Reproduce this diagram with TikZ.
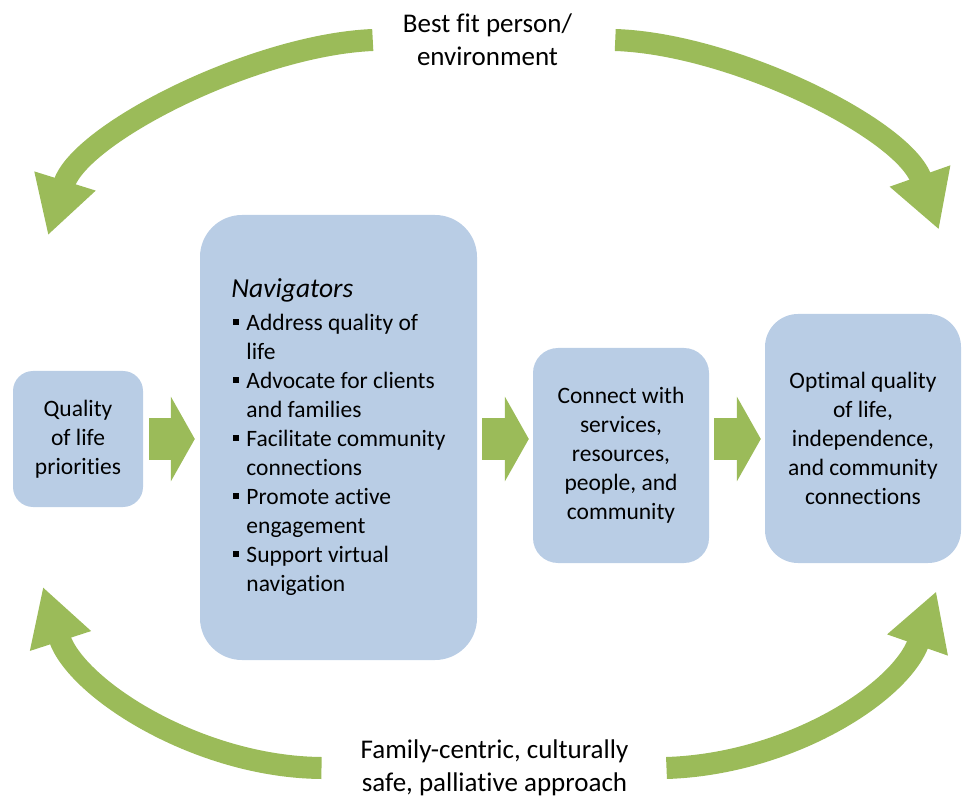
\documentclass[tikz,border=0pt]{standalone}
\usepackage{fontspec}
\setmainfont{Carlito}[Ligatures=NoCommon]
\usetikzlibrary{arrows.meta}
\definecolor{boxblue}{RGB}{185,205,229}
\definecolor{loopgreen}{RGB}{155,187,89}
\newcommand{\sqbullet}{\makebox[15pt][l]{\hspace{2pt}\rule[6pt]{6pt}{6pt}}}
\begin{document}
\begin{tikzpicture}[x=1pt,y=-1pt,
  roundbox/.style={fill=boxblue,inner sep=0pt,align=center,font=\fontsize{23.5}{29}\selectfont},
  blockarrow/.style={loopgreen,line width=42pt,-{Triangle[length=24pt,width=84pt]}},
  bendarrow/.style={loopgreen,line width=22pt,shorten >=-57pt,-{Triangle[length=57pt,width=60pt]}},
  looptext/.style={align=center,inner sep=0pt,font=\fontsize{27}{33}\selectfont}]
%%
\useasboundingbox (0,0) rectangle (962,802);
\node (prio) at (78,439) [roundbox,minimum width=130pt,minimum height=136pt,rounded corners=20pt] {Quality\\of life\\priorities};
\node (nav) at (338.5,437.5) [roundbox,align=left,minimum width=277pt,minimum height=445pt,rounded corners=42pt] {{\fontsize{27.5}{29}\selectfont\itshape Navigators}\\[4pt]
  \sqbullet Address quality of\\ \hspace*{15pt}life\\
  \sqbullet Advocate for clients\\ \hspace*{15pt}and families\\
  \sqbullet Facilitate community\\ \hspace*{15pt}connections\\
  \sqbullet Promote active\\ \hspace*{15pt}engagement\\
  \sqbullet Support virtual\\ \hspace*{15pt}navigation};
\node (conn) at (621,455.5) [roundbox,minimum width=176pt,minimum height=215pt,rounded corners=25pt] {Connect with\\services,\\resources,\\people, and\\community};
\node (goal) at (863,438.5) [roundbox,minimum width=196pt,minimum height=249pt,rounded corners=33pt] {Optimal quality\\of life,\\independence,\\and community\\connections};
\node (fit) at (487.5,40) [looptext] {Best fit person/\\environment};
\node (care) at (494.5,768) [looptext] {Family-centric, culturally\\safe, palliative approach};
%
\draw [blockarrow] ([xshift=6pt]prio.east) -- ([xshift=-5pt]prio.east -| nav.west);
\draw [blockarrow] ([xshift=5pt]prio.east -| nav.east) -- ([xshift=-4pt]prio.east -| conn.west);
\draw [blockarrow] ([xshift=5pt]prio.east -| conn.east) -- ([xshift=-4pt]prio.east -| goal.west);
%
\coordinate (tlbase) at (65,181);
\coordinate (trbase) at (920,176);
\coordinate (blbase) at (60.5,641);
\coordinate (brbase) at (917.5,645);
\draw [bendarrow] ([xshift=-30pt]fit.west) .. controls (255,45) and (80,133) .. (tlbase);
\draw [bendarrow] ([xshift=43pt]fit.east) .. controls (733,44) and (903.4,128.8) .. (trbase);
\draw [bendarrow] ([xshift=-39pt]care.west) .. controls (198,767) and (75.9,688.5) .. (blbase);
\draw [bendarrow] ([xshift=38pt]care.east) .. controls (790,764) and (901,692.3) .. (brbase);
%
\end{tikzpicture}
\end{document}
